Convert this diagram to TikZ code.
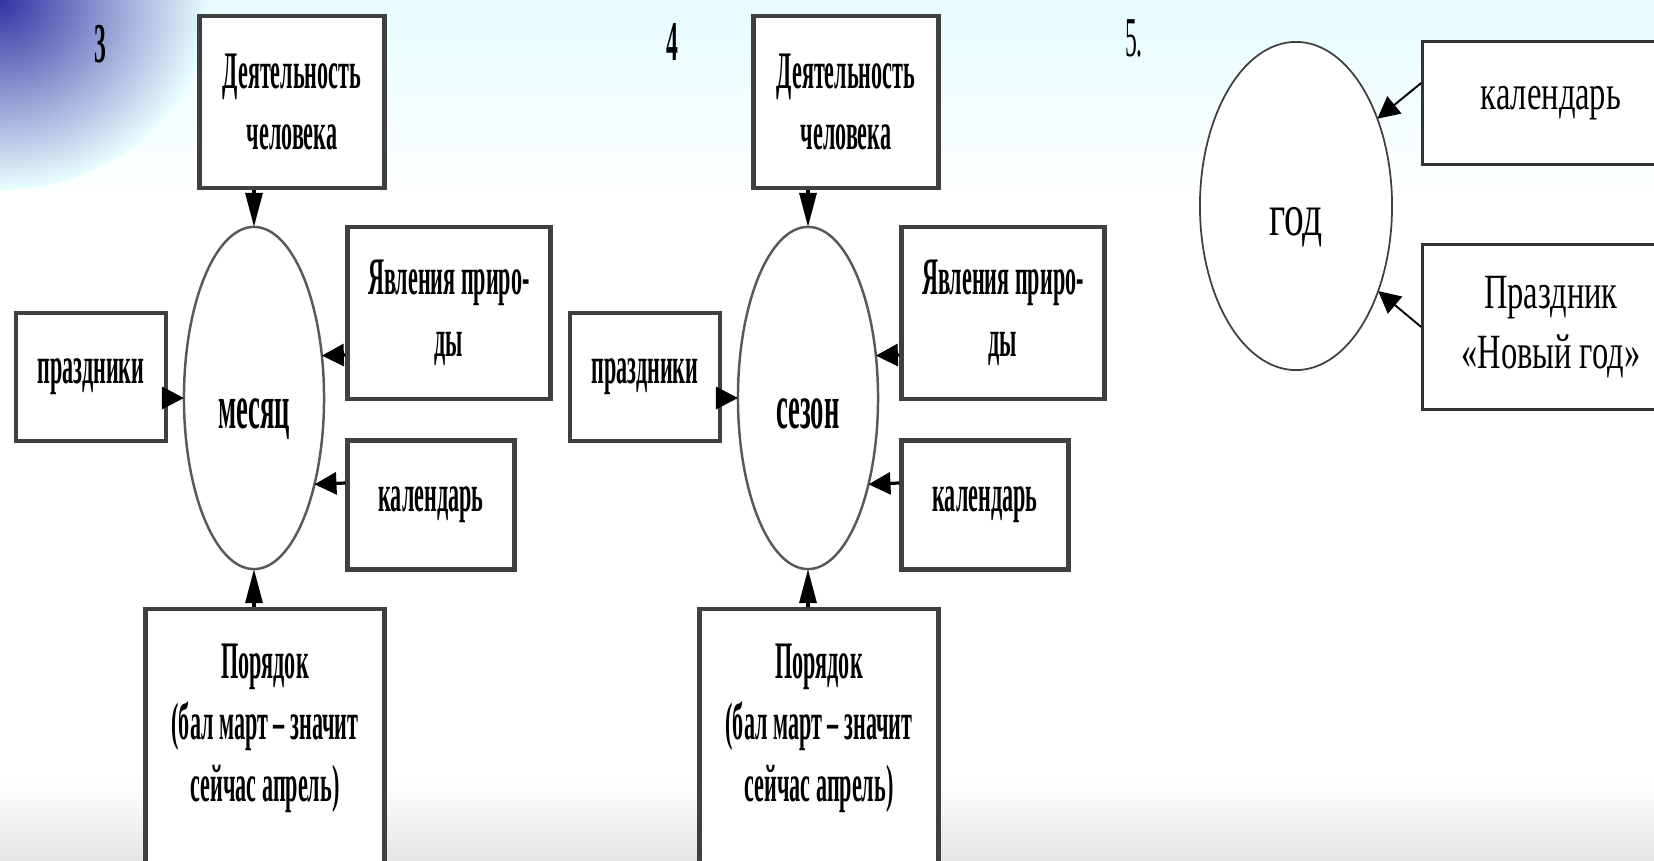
\documentclass[tikz,border=0pt]{standalone}
\usepackage{fontspec}
\setmainfont{Liberation Serif}
\newfontfamily\narrowfont[FakeStretch=0.42]{Liberation Serif}
\newfontfamily\yearfont[FakeStretch=0.66]{Liberation Serif}
\usetikzlibrary{arrows.meta,shapes.geometric}

\begin{document}
\begin{tikzpicture}[x=0.01cm,y=-0.01cm,
    box/.style={draw=black!75,line width=1.2pt,fill=white,inner sep=0pt,align=center,font=\narrowfont\bfseries\fontsize{15}{17.5}\selectfont},
    oval/.style={draw=black!65,line width=0.7pt,ellipse,inner sep=0pt,outer sep=0pt,fill=white,font=\narrowfont\bfseries\fontsize{18}{21}\selectfont},
    box5/.style={draw=black!80,line width=0.7pt,fill=white,inner sep=0pt,align=center,font=\yearfont\fontsize{14}{17}\selectfont},
    oval5/.style={draw=black!75,line width=0.5pt,ellipse,inner sep=0pt,outer sep=0pt,fill=white,font=\yearfont\fontsize{17}{20}\selectfont},
    arr/.style={line width=0.9pt,-{Triangle[length=2.2mm,width=2.2mm]}},
    arrv/.style={line width=0.9pt,-{Triangle[length=3.4mm,width=1.7mm]}},
    arr5/.style={line width=0.55pt,-{Triangle[length=2.2mm,width=2.2mm]}},
    num/.style={font=\narrowfont\bfseries\fontsize{16}{18}\selectfont}]
      \clip (0,0) rectangle (1654,861);
      % background of the slide
      \fill[white] (0,0) rectangle (1654,861);
      \fill[top color=blue!12!cyan!10, bottom color=white] (0,0) rectangle (1654,200);
      \shade[inner color=blue!55!black!80, outer color=cyan!9] (0,0) ellipse [x radius=210, y radius=190];
      \fill[top color=white, bottom color=black!10] (0,780) rectangle (1654,861);

      % 3
      \node[num] (n3) at (100,44) {3};
      \node[box,minimum width=1.85cm,minimum height=1.72cm] (act3) at (292,102) {Деятельность\\человека};
      \node[oval,minimum width=1.40cm,minimum height=3.42cm] (month) at (254,398) {\raisebox{-0.3cm}[0pt][0pt]{месяц}};
      \node[box,minimum width=1.50cm,minimum height=1.28cm] (hol3) at (91,377) {праздники};
      \node[box,minimum width=2.03cm,minimum height=1.72cm] (nat3) at (449,313) {Явления приро-\\ды};
      \node[box,minimum width=1.67cm,minimum height=1.29cm] (cal3) at (431,505) {календарь};
      \node[box,minimum width=2.39cm,minimum height=2.60cm,text depth=0.33cm] (ord3) at (265,739) {Порядок\\(бал март – значит\\сейчас апрель)};
      \draw[arrv] (act3.south -| month.north) -- (month.north);
      \draw[arr] (hol3.east |- month.west) -- (month.west);
      \draw[arr] ([yshift=-0.42cm]nat3.west) -- (month.32);
      \draw[arr] ([yshift=0.22cm]cal3.west) -- (month.-55);
      \draw[arrv] (ord3.north -| month.south) -- (month.south);

      % 4
      \node[num] (n4) at (672,42) {4};
      \node[box,minimum width=1.85cm,minimum height=1.72cm] (act4) at (846,102) {Деятельность\\человека};
      \node[oval,minimum width=1.40cm,minimum height=3.42cm] (season) at (808,398) {\raisebox{-0.3cm}[0pt][0pt]{сезон}};
      \node[box,minimum width=1.50cm,minimum height=1.28cm] (hol4) at (645,377) {праздники};
      \node[box,minimum width=2.03cm,minimum height=1.72cm] (nat4) at (1003,313) {Явления приро-\\ды};
      \node[box,minimum width=1.67cm,minimum height=1.29cm] (cal4) at (985,505) {календарь};
      \node[box,minimum width=2.39cm,minimum height=2.60cm,text depth=0.33cm] (ord4) at (819,739) {Порядок\\(бал март – значит\\сейчас апрель)};
      \draw[arrv] (act4.south -| season.north) -- (season.north);
      \draw[arr] (hol4.east |- season.west) -- (season.west);
      \draw[arr] ([yshift=-0.42cm]nat4.west) -- (season.32);
      \draw[arr] ([yshift=0.22cm]cal4.west) -- (season.-55);
      \draw[arrv] (ord4.north -| season.south) -- (season.south);

      % 5
      \node[num,font=\narrowfont\fontsize{16}{18}\selectfont] (n5) at (1134,38) {5.};
      \node[oval5,minimum width=1.92cm,minimum height=3.28cm] (year) at (1296,206) {\raisebox{-0.29cm}[0pt][0pt]{год}};
      \node[box5,minimum width=2.57cm,minimum height=1.23cm] (cal5) at (1551,103) {календарь};
      \node[box5,minimum width=2.57cm,minimum height=1.65cm] (fest5) at (1551,327) {Праздник\\«Новый год»};
      \draw[arr5] ([yshift=0.2cm]cal5.west) -- (year.47);
      \draw[arr5] (fest5.west) -- (year.-46);
    \end{tikzpicture}
\end{document}
